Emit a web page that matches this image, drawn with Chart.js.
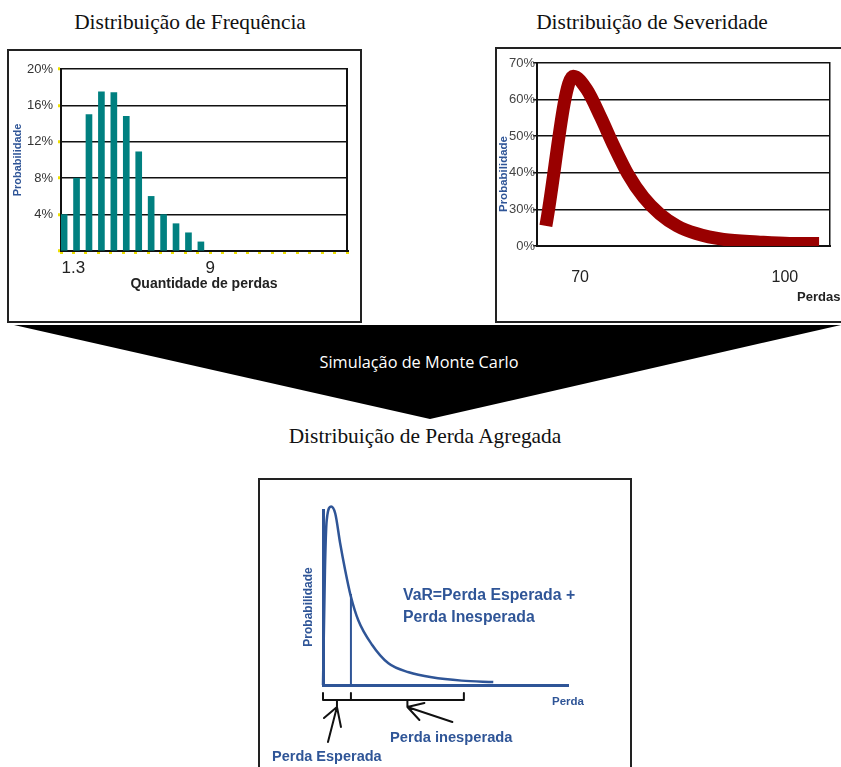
<!DOCTYPE html>
<html lang="pt">
<head>
<meta charset="utf-8">
<title>Distribuição de Perda Agregada</title>
<script src="https://cdn.jsdelivr.net/npm/chart.js@4.4.0/dist/chart.umd.min.js"></script>
<style>
  html, body { margin: 0; padding: 0; background: #fff; }
  body { position: relative; width: 841px; height: 767px; overflow: hidden; font-family: "Liberation Sans", Arial, sans-serif; }
  .abs { position: absolute; white-space: nowrap; }
  .title { font-family: "Liberation Serif", "Times New Roman", serif; font-size: 21.4px; line-height: 26px; color: #111; text-align: center; }
  .box { border: 2px solid #222; box-sizing: border-box; }
  canvas { position: absolute; }
  .lbl { color: #2f5597; font-weight: bold; }
  .rot { transform: translate(-50%, -50%) rotate(-90deg); }
</style>
</head>
<body>
<div class="abs title" style="left:0; width:380px; top:9px;">Distribuição de Frequência</div>
<div class="abs title" style="left:462px; width:380px; top:9px;">Distribuição de Severidade</div>

<canvas id="freqChart" width="355" height="274" style="left:7px; top:49px;"></canvas>
<div class="abs box" style="left:7px; top:49px; width:355px; height:274px;"></div>

<canvas id="sevChart" width="370" height="276" style="left:495px; top:47px;"></canvas>
<div class="abs box" style="left:495px; top:47px; width:380px; height:276px;"></div>
<div class="abs lbl rot" style="left:503px; top:174px; font-size:11.5px;">Probabilidade</div>
<div class="abs" style="left:797px; top:289px; font-size:13px; font-weight:bold; color:#222;">Perdas</div>

<div class="abs" style="left:0; top:0; width:841px; height:430px; background:#000; clip-path: polygon(14px 325px, 841px 325px, 430px 419px);"></div>
<div class="abs" style="left:0; width:838px; top:352px; text-align:center; color:#fff; font-family:'Open Sans', sans-serif; font-size:16.3px; line-height:20px;">Simulação de Monte Carlo</div>

<div class="abs title" style="left:225px; width:400px; top:423px;">Distribuição de Perda Agregada</div>

<canvas id="aggChart" width="374" height="289" style="left:258px; top:478px;"></canvas>
<div class="abs box" style="left:258px; top:478px; width:374px; height:300px;"></div>
<div class="abs lbl rot" style="left:308px; top:607px; font-size:12px;">Probabilidade</div>
<div class="abs lbl" style="left:403px; top:584px; font-size:15.8px; line-height:22px;">VaR=Perda Esperada +<br>Perda Inesperada</div>
<div class="abs lbl" style="left:552px; top:695px; font-size:11.5px;">Perda</div>
<div class="abs lbl" style="left:390px; top:729px; font-size:14.7px;">Perda inesperada</div>
<div class="abs lbl" style="left:272px; top:748px; font-size:14.5px;">Perda Esperada</div>

<script>
// Distribuição de Frequência (probabilidade em %)
const freqProb = [4, 8, 15, 17.5, 17.4, 14.8, 10.9, 6, 4, 3, 2, 1];
const freqSlots = 23;
const freqTickLabels = { 1: "1.3", 12: "9" };

// Distribuição de Severidade
const sevLoss = [65, 69, 71, 73, 75, 77, 79.3, 81.7, 84.2, 87, 91, 96, 100.7, 105];
const sevProb = [25.5, 66.4, 62.7, 55.3, 47.1, 39.7, 33.3, 28.7, 25.5, 23.4, 21.8, 21.1, 20.7, 20.7];
const sevXTicks = [70, 100];
const sevTickLabels = ["0%", "30%", "40%", "50%", "60%", "70%"];

// Distribuição de Perda Agregada (unidades relativas)
const aggLoss = [0, 0.8, 1.5, 3.3, 5, 7, 9, 11.3, 14.4, 20, 26.7, 35, 44.4, 56.6, 69.5];
const aggProb = [0, 66, 94, 102, 98, 81, 66, 51, 37, 23, 12.4, 7.3, 4.4, 2.5, 1.7];
const varLoss = 11.4;
const varProb = 52;
const bracketLoss = [0, 11.4, 57.5];

const blue = "#2f5597";
Chart.defaults.font.family = "'Liberation Sans', Arial, sans-serif";
Chart.defaults.plugins.legend.display = false;
Chart.defaults.plugins.tooltip.enabled = false;

new Chart(document.getElementById("freqChart"), {
  type: "bar",
  data: {
    datasets: [{
      data: freqProb.map((p, i) => ({ x: i + 0.25, y: p })),
      backgroundColor: "#008080",
      barThickness: 6,
    }],
  },
  options: {
    responsive: false,
    animation: false,
    layout: { padding: { top: 20, right: 15 } },
    scales: {
      x: {
        type: "linear",
        min: 0,
        max: freqSlots,
        offset: false,
        ticks: {
          stepSize: 1, autoSkip: false, maxRotation: 0, padding: 4,
          color: "#222", font: { size: 17 },
          callback: v => freqTickLabels[v] || "",
        },
        grid: { offset: false, drawOnChartArea: false, color: "#eee000", tickLength: 3, lineWidth: 3 },
        border: { color: "#111", width: 2 },
        title: {
          display: true, text: "Quantidade de perdas", color: "#222",
          font: { size: 14, weight: "bold" }, padding: { bottom: 30 },
        },
        afterFit: s => { s.height = 72; },
      },
      y: {
        min: 0,
        max: 20,
        ticks: {
          stepSize: 4, padding: 5, color: "#333", font: { size: 13 },
          callback: v => v === 0 ? "" : v + "%",
        },
        grid: { color: "#111", lineWidth: 1.5, tickColor: "#eee000", tickLength: 3, tickWidth: 3 },
        border: { color: "#111", width: 2 },
        title: {
          display: true, text: "Probabilidade", color: blue,
          font: { size: 11, weight: "bold" }, padding: { top: 4 },
        },
        afterFit: s => { s.width = 54; },
      },
      y2: {
        position: "right",
        ticks: { display: false },
        grid: { display: false },
        border: { color: "#111", width: 2 },
        afterFit: s => { s.width = 0; },
      },
    },
  },
});

new Chart(document.getElementById("sevChart"), {
  type: "line",
  data: {
    datasets: [{
      data: sevLoss.map((x, i) => ({ x: x, y: sevProb[i] })),
      borderColor: "#990000",
      borderWidth: 13,
      pointRadius: 0,
      cubicInterpolationMode: "monotone",
      borderCapStyle: "butt",
      borderJoinStyle: "round",
    }],
  },
  options: {
    responsive: false,
    animation: false,
    layout: { padding: { top: 16, right: 35 } },
    scales: {
      x: {
        type: "linear",
        min: 63.7,
        max: 106.6,
        afterBuildTicks: s => { s.ticks = sevXTicks.map(v => ({ value: v })); },
        ticks: { autoSkip: false, maxRotation: 0, padding: 14, color: "#222", font: { size: 16 } },
        grid: { display: false },
        border: { color: "#111", width: 2 },
        afterFit: s => { s.height = 77; },
      },
      y: {
        min: 20,
        max: 70,
        ticks: {
          stepSize: 10, padding: -2, color: "#444", font: { size: 13 },
          callback: (v, i) => sevTickLabels[i],
        },
        grid: { color: "#111", lineWidth: 1.5, tickLength: 4 },
        border: { color: "#111", width: 2 },
        afterFit: s => { s.width = 42; },
      },
      y2: {
        position: "right",
        ticks: { display: false },
        grid: { display: false },
        border: { color: "#111", width: 1.5 },
        afterFit: s => { s.width = 0; },
      },
    },
  },
});

// brackets and hand-drawn arrows under the loss axis
const bracketPlugin = {
  id: "brackets",
  afterDraw(chart) {
    const { ctx, scales: { x, y } } = chart;
    const px = bracketLoss.map(v => x.getPixelForValue(v));
    const base = y.bottom + 15;
    const mids = px.slice(1).map((p, i) => (p + px[i]) / 2);
    ctx.save();
    ctx.strokeStyle = "#111";
    ctx.lineWidth = 2;
    ctx.lineCap = "round";
    ctx.beginPath();
    ctx.moveTo(px[0], base);
    ctx.lineTo(px[px.length - 1], base);
    px.forEach(p => { ctx.moveTo(p, base); ctx.lineTo(p, base - 7); });
    mids.forEach(m => { ctx.moveTo(m, base); ctx.lineTo(m, base + 7); });
    // arrow to expected loss
    let tx = mids[0], ty = base + 7;
    ctx.moveTo(tx, ty); ctx.lineTo(tx - 9, ty + 35);
    ctx.moveTo(tx, ty); ctx.lineTo(tx - 13, ty + 11);
    ctx.moveTo(tx, ty); ctx.lineTo(tx + 4, ty + 20);
    // arrow to unexpected loss
    tx = mids[1];
    ctx.moveTo(tx, ty); ctx.lineTo(tx + 45, ty + 15);
    ctx.moveTo(tx, ty); ctx.lineTo(tx + 17, ty - 4);
    ctx.moveTo(tx, ty); ctx.lineTo(tx + 12, ty + 13);
    ctx.stroke();
    ctx.restore();
  },
};

new Chart(document.getElementById("aggChart"), {
  type: "line",
  data: {
    datasets: [
      {
        data: aggLoss.map((x, i) => ({ x: x, y: aggProb[i] })),
        borderColor: blue,
        borderWidth: 2.5,
        pointRadius: 0,
        cubicInterpolationMode: "monotone",
        clip: false,
      },
      {
        data: [{ x: varLoss, y: 0 }, { x: varLoss, y: varProb }],
        borderColor: blue,
        borderWidth: 2,
        pointRadius: 0,
      },
    ],
  },
  options: {
    responsive: false,
    animation: false,
    layout: { padding: { top: 32, right: 64 } },
    scales: {
      x: {
        type: "linear", min: 0, max: 100,
        ticks: { display: false },
        grid: { display: false },
        border: { color: blue, width: 3 },
        afterFit: s => { s.height = 82; },
      },
      y: {
        min: 0, max: 100,
        ticks: { display: false },
        grid: { display: false },
        border: { color: blue, width: 3 },
        afterFit: s => { s.width = 65; },
      },
    },
  },
  plugins: [bracketPlugin],
});
</script>
</body>
</html>
